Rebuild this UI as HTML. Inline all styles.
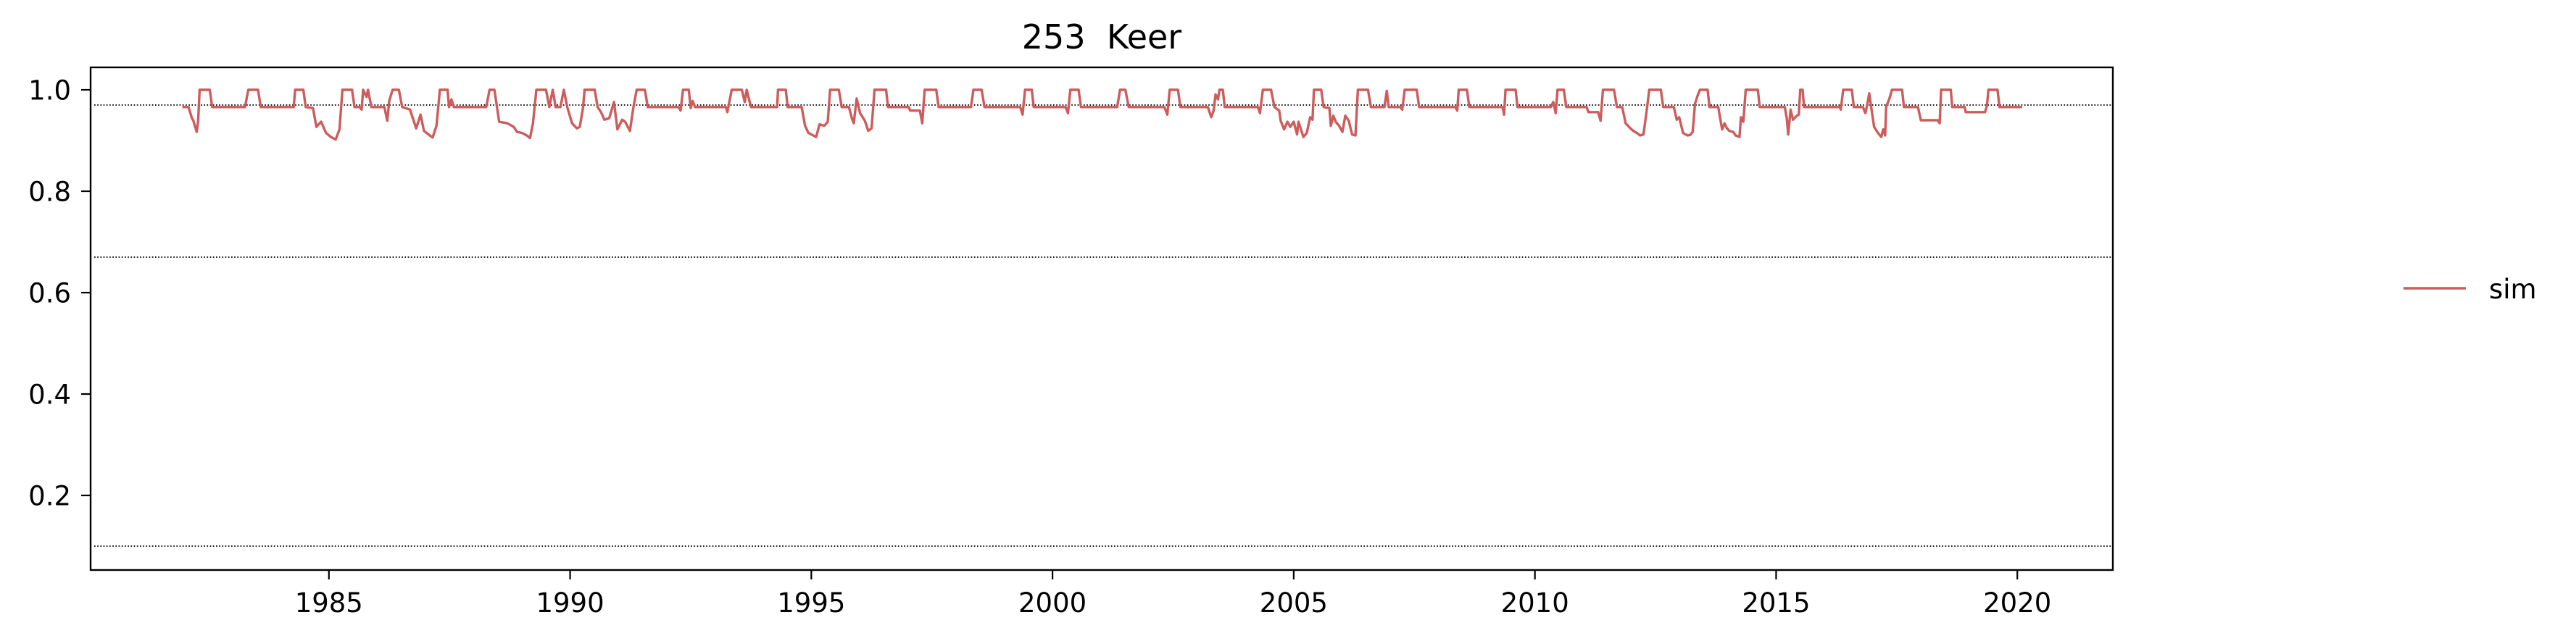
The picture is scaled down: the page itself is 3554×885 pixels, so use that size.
<!DOCTYPE html>
<html><head><meta charset="utf-8"><style>
html,body{margin:0;padding:0;background:#fff;}
svg{display:block;font-family:"DejaVu Sans","Liberation Sans",sans-serif;}
</style></head><body>
<svg id="chart" width="3554" height="885" viewBox="0 0 3554 885" xmlns="http://www.w3.org/2000/svg">
<rect width="3554" height="885" fill="#fff"/>
<text x="1520" y="67" font-size="46" text-anchor="middle" xml:space="preserve">253  Keer</text>
<g id="refs"></g>
<g id="yaxis"></g>
<g id="xaxis"></g>
<polyline id="simline" fill="none" stroke="#cd5c5c" stroke-width="3.4" stroke-linejoin="round"/>
<rect x="125" y="93" width="2790" height="694" fill="none" stroke="#000" stroke-width="2.4"/>
<g>
<line x1="3316" y1="398" x2="3402" y2="398" stroke="#cd5c5c" stroke-width="3.4"/>
<text x="3434" y="412" font-size="37">sim</text>
</g>
</svg>
<script>
const refLevels=[0.97,0.67,0.1];
const yTicks=[0.2,0.4,0.6,0.8,1.0];
const yTickLabels=["0.2","0.4","0.6","0.8","1.0"];
const xTicks=[1985,1990,1995,2000,2005,2010,2015,2020];
const xTickLabels=["1985","1990","1995","2000","2005","2010","2015","2020"];
const dates=[1981.96,1982.09,1982.16,1982.19,1982.22,1982.26,1982.29,1982.32,1982.53,1982.58,1983.26,1983.33,1983.53,1983.59,1984.27,1984.30,1984.47,1984.52,1984.67,1984.74,1984.84,1984.94,1985.04,1985.14,1985.22,1985.28,1985.48,1985.53,1985.64,1985.68,1985.71,1985.78,1985.81,1985.88,1986.15,1986.21,1986.25,1986.32,1986.45,1986.52,1986.68,1986.81,1986.90,1986.97,1987.09,1987.15,1987.23,1987.30,1987.46,1987.49,1987.54,1987.59,1988.26,1988.33,1988.43,1988.53,1988.70,1988.83,1988.90,1989.00,1989.10,1989.17,1989.23,1989.30,1989.50,1989.57,1989.64,1989.70,1989.80,1989.87,1989.94,1990.04,1990.14,1990.20,1990.27,1990.30,1990.51,1990.57,1990.64,1990.71,1990.81,1990.91,1990.98,1991.08,1991.14,1991.24,1991.31,1991.38,1991.55,1991.61,
1992.25,1992.29,1992.34,1992.46,1992.50,1992.54,1992.59,1993.23,1993.26,1993.35,1993.56,1993.62,1993.66,1993.75,1994.29,1994.31,1994.47,1994.51,1994.80,1994.87,1994.94,1995.04,1995.10,1995.17,1995.27,1995.34,1995.39,1995.57,1995.63,1995.78,1995.84,1995.88,1995.94,1996.01,1996.11,1996.18,1996.25,1996.31,1996.55,1996.59,1997.02,1997.05,1997.25,1997.30,1997.35,1997.59,1997.64,1998.31,1998.36,1998.53,1998.59,1999.33,1999.38,1999.43,1999.57,1999.61,2000.27,2000.32,2000.37,2000.54,2000.59,2001.34,2001.40,2001.51,2001.58,2002.32,2002.38,2002.43,2002.60,2002.65,
2003.22,2003.29,2003.34,2003.38,2003.43,2003.46,2003.53,2003.57,2004.26,2004.30,2004.36,2004.53,2004.60,2004.70,2004.73,2004.80,2004.87,2004.93,2005.00,2005.07,2005.10,2005.20,2005.27,2005.34,2005.39,2005.42,2005.57,2005.62,2005.74,2005.77,2005.82,2005.87,2005.94,2006.01,2006.07,2006.14,2006.21,2006.28,2006.33,2006.54,2006.60,2006.88,2006.93,2006.97,2007.21,2007.25,2007.30,2007.55,2007.60,2008.35,2008.39,2008.42,2008.59,2008.64,2009.33,2009.36,2009.39,2009.60,2009.64,2010.33,2010.38,2010.43,2010.47,2010.60,2010.65,2011.07,2011.11,2011.31,2011.36,2011.41,2011.64,2011.70,2011.81,2011.88,2011.98,2012.04,2012.11,2012.18,2012.25,2012.31,2012.37,2012.61,2012.66,
2012.88,2012.94,2012.99,2013.07,2013.12,2013.17,2013.22,2013.27,2013.32,2013.37,2013.42,2013.58,2013.62,2013.80,2013.88,2013.93,2013.98,2014.03,2014.11,2014.16,2014.24,2014.27,2014.32,2014.37,2014.62,2014.66,2015.18,2015.22,2015.25,2015.30,2015.35,2015.43,2015.47,2015.50,2015.55,2015.58,2016.32,2016.34,2016.39,2016.57,2016.61,2016.80,2016.85,2016.89,2016.93,2016.97,2017.03,2017.11,2017.18,2017.22,2017.26,2017.28,2017.35,2017.40,2017.61,2017.65,2017.94,2018.00,2018.35,2018.39,2018.42,2018.62,2018.65,2018.91,2018.93,2019.33,2019.37,2019.40,2019.59,2019.63,2020.10];
const sim=[.966,.966,.944,.939,.929,.917,.939,1,1,.966,.966,1,1,.966,.966,1,1,.966,.964,.927,.937,.915,.907,.902,.922,1,1,.966,.966,.961,1,.986,1,.966,.966,.939,.978,1,1,.966,.961,.924,.951,.919,.910,.906,.929,1,1,.966,.981,.966,.966,1,1,.937,.934,.927,.917,.915,.910,.905,.934,1,1,.966,1,.966,.966,1,.966,.934,.924,.927,.966,1,1,.966,.956,.941,.944,.976,.922,.941,.937,.919,.964,1,1,.966,
.966,.959,1,1,.964,.978,.966,.966,.956,1,1,.976,1,.966,.966,1,1,.966,.966,.929,.915,.910,.907,.932,.929,.937,1,1,.966,.966,.944,.934,.983,.954,.939,.919,.924,1,1,.966,.966,.959,.959,.934,1,1,.966,.966,1,1,.966,.966,.951,1,1,.966,.966,.954,1,1,.966,.966,1,1,.966,.966,.951,1,1,.966,
.966,.946,.959,.991,.981,1,1,.966,.966,.954,1,1,.966,.959,.939,.922,.937,.927,.937,.912,.937,.907,.915,.946,.941,1,1,.966,.964,.929,.949,.937,.929,.917,.949,.939,.912,.910,1,1,.966,.966,.998,.966,.966,.961,1,1,.966,.966,.959,1,1,.966,.966,.951,1,1,.966,.966,.976,.954,1,1,.966,.966,.956,.956,.939,1,1,.966,.966,.934,.924,.919,.915,.910,.912,.954,1,1,.966,
.966,.941,.946,.915,.912,.910,.911,.917,.973,.988,1,1,.966,.966,.922,.934,.924,.919,.917,.910,.907,.946,.937,1,1,.966,.966,.944,.912,.961,.941,.949,.951,1,1,.966,.966,.961,1,1,.966,.966,.954,.971,.993,.966,.927,.915,.907,.922,.910,.966,.983,1,1,.966,.966,.940,.940,.934,1,1,.966,.966,.956,.956,.968,1,1,.966,.966];

const X0=125,X1=2915,Y0=93,Y1=787;
const xMin=1980.06,xMax=2021.98,yMin=0.0529,yMax=1.0443;
function xs(v){return X0+(v-xMin)/(xMax-xMin)*(X1-X0);}
function ys(v){return Y1-(v-yMin)/(yMax-yMin)*(Y1-Y0);}
const NS="http://www.w3.org/2000/svg";
function mk(tag,attrs,parent){const e=document.createElementNS(NS,tag);for(const k in attrs)e.setAttribute(k,attrs[k]);parent.appendChild(e);return e;}

const refs=document.getElementById('refs');
refLevels.forEach(function(r){
  const l=mk('line',{x1:130,x2:X1,y1:ys(r),y2:ys(r),stroke:'#000','stroke-width':1.7,'stroke-dasharray':'1.7 2.5'},refs);
  
  
});
const ya=document.getElementById('yaxis');
yTicks.forEach(function(t,i){
  const y=ys(t);
  const tk=mk('line',{x1:X0-13,x2:X0,y1:y,y2:y,stroke:'#000','stroke-width':2.2},ya);
  
  
  const tx=mk('text',{x:X0-27,y:y+13.5,'font-size':37,'text-anchor':'end'},ya);
  tx.textContent=yTickLabels[i];
  
  
});
const xa=document.getElementById('xaxis');
xTicks.forEach(function(t,i){
  const x=xs(t);
  const tk=mk('line',{x1:x,x2:x,y1:Y1,y2:Y1+13,stroke:'#000','stroke-width':2.2},xa);
  
  
  const tx=mk('text',{x:x,y:Y1+58,'font-size':37,'text-anchor':'middle'},xa);
  tx.textContent=xTickLabels[i];
  
  
});
const pts=dates.map(function(d,i){return xs(d).toFixed(1)+','+ys(sim[i]).toFixed(1);}).join(' ');
document.getElementById('simline').setAttribute('points',pts);
</script>
</body></html>
